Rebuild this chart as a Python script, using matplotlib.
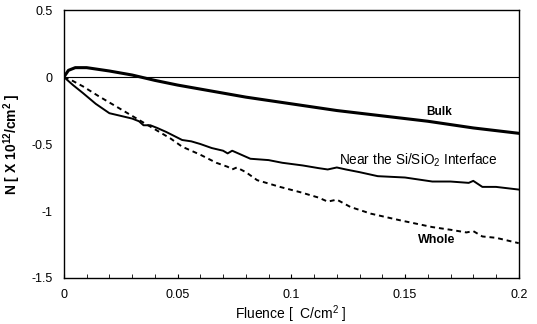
import matplotlib.pyplot as plt
import numpy as np

plt.rcParams['font.family'] = ['Liberation Sans', 'DejaVu Sans']

# Bulk
bulk_x = [0, 0.002, 0.005, 0.01, 0.02, 0.03, 0.04, 0.05, 0.06, 0.07, 0.08,
          0.09, 0.1, 0.12, 0.14, 0.16, 0.18, 0.2]
bulk_y = [0, 0.05, 0.07, 0.07, 0.045, 0.015, -0.025, -0.06, -0.09, -0.12, -0.15,
          -0.175, -0.2, -0.25, -0.29, -0.33, -0.38, -0.42]

# Near the Si/SiO2 interface
near_x = [0, 0.004, 0.0084, 0.014, 0.02, 0.025, 0.03, 0.033, 0.035, 0.038, 0.041,
          0.045, 0.052, 0.056, 0.06, 0.065, 0.07, 0.072, 0.074, 0.078, 0.082,
          0.09, 0.096, 0.105, 0.112, 0.116, 0.12, 0.124, 0.13, 0.138, 0.15,
          0.162, 0.17, 0.178, 0.18, 0.184, 0.19, 0.2]
near_y = [0, -0.06, -0.12, -0.2, -0.27, -0.29, -0.31, -0.33, -0.36, -0.36, -0.38,
          -0.41, -0.47, -0.48, -0.5, -0.53, -0.55, -0.57, -0.55, -0.58, -0.61,
          -0.62, -0.64, -0.66, -0.68, -0.69, -0.675, -0.69, -0.71, -0.74, -0.75,
          -0.78, -0.78, -0.79, -0.775, -0.82, -0.82, -0.84]

# Whole
whole_x = [0, 0.004, 0.0084, 0.015, 0.023, 0.032, 0.037, 0.042, 0.047, 0.052,
           0.06, 0.067, 0.072, 0.074, 0.076, 0.08, 0.085, 0.095, 0.104, 0.112,
           0.116, 0.12, 0.126, 0.135, 0.148, 0.162, 0.17, 0.177, 0.18, 0.184,
           0.19, 0.2]
whole_y = [0, -0.03, -0.07, -0.14, -0.22, -0.31, -0.36, -0.41, -0.46, -0.52,
           -0.58, -0.64, -0.67, -0.69, -0.675, -0.71, -0.77, -0.82, -0.86, -0.9,
           -0.93, -0.915, -0.97, -1.02, -1.07, -1.12, -1.14, -1.16, -1.15, -1.19,
           -1.2, -1.24]

fig = plt.figure(figsize=(5.37, 3.24), dpi=100)
ax = fig.add_axes([0.119, 0.142, 0.847, 0.827])

ax.axhline(0, color='black', lw=0.8)
ax.plot(bulk_x, bulk_y, color='black', lw=2.2)
ax.plot(near_x, near_y, color='black', lw=1.4)
ax.plot(whole_x, whole_y, color='black', lw=1.4, ls=(0, (2.5, 2)))

ax.text(0.165, -0.26, 'Bulk', ha='center', va='center', fontsize=8.5, fontweight='bold')
ax.text(0.156, -0.62, 'Near the Si/SiO$_\\mathregular{2}$ Interface', ha='center', va='center',
        fontsize=9.8)
ax.text(0.164, -1.22, 'Whole', ha='center', va='center', fontsize=9, fontweight='bold')

ax.set_xlim(0, 0.2)
ax.set_ylim(-1.5, 0.5)
ax.set_xticks([0, 0.05, 0.1, 0.15, 0.2])
ax.set_xticklabels(['0', '0.05', '0.1', '0.15', '0.2'])
ax.set_xticks(np.arange(0, 0.201, 0.01), minor=True)
ax.set_yticks([-1.5, -1, -0.5, 0, 0.5])
ax.set_yticklabels(['-1.5', '-1', '-0.5', '0', '0.5'])
ax.tick_params(axis='x', which='both', direction='in', length=3, labelsize=9, pad=8)
ax.tick_params(axis='y', length=0, labelsize=9, pad=8)

ax.set_xlabel('Fluence [  C/cm$^\\mathregular{2}$ ]', fontsize=10, labelpad=2)
ax.set_ylabel('N [ X 10$^\\mathregular{12}$/cm$^\\mathregular{2}$ ]', fontsize=10,
              fontweight='bold', labelpad=6)
for s in ax.spines.values():
    s.set_linewidth(1.0)

fig.savefig('out.png', dpi=100)
